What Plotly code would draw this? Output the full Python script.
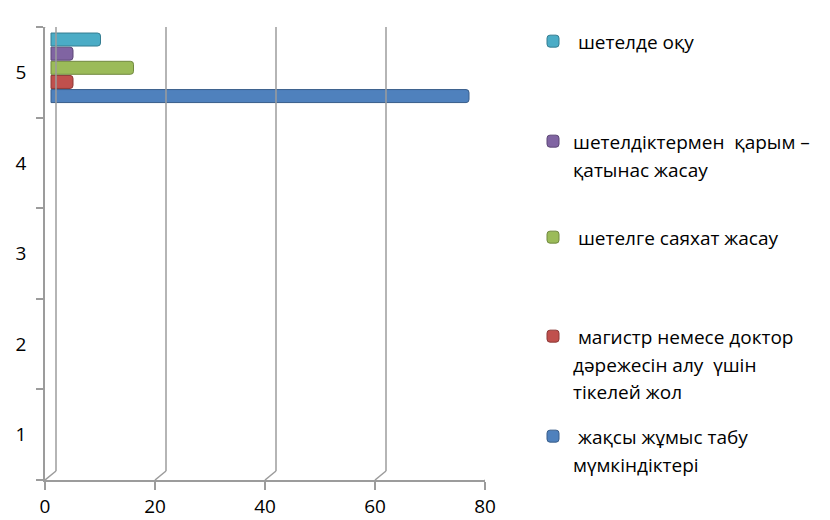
import plotly.graph_objects as go

categories = ["1", "2", "3", "4", "5"]
series_lines = [
    ["\u00a0жақсы жұмыс табу", "мүмкіндіктері"],
    ["\u00a0магистр немесе доктор", "дәрежесін алу  үшін", "тікелей жол"],
    ["\u00a0шетелге саяхат жасау"],
    ["шетелдіктермен  қарым –", "қатынас жасау"],
    ["\u00a0шетелде оқу"],
]
series_values = [
    [None, None, None, None, 76],
    [None, None, None, None, 4],
    [None, None, None, None, 15],
    [None, None, None, None, 4],
    [None, None, None, None, 9],
]
colors = ["#4F81BD", "#C0504D", "#9BBB59", "#8064A2", "#4BACC6"]
edge_colors = ["#385D8A", "#8C3836", "#71893F", "#5C4776", "#357D91"]
x_ticks = [0, 20, 40, 60, 80]

FONT = "Open Sans, Roboto, Noto Sans, sans-serif"
AXC = "#9C9C9C"
TXT = 19

W, H = 830, 520
ML, MR, MT, MB = 45, 345, 27, 40
plot_w = W - ML - MR
x_per_unit = plot_w / 80.0
cat_px = (H - MT - MB) / 5.0
dx, dy = 6, 4.5  # mid-depth offset for bars

fig = go.Figure()
legend_ids = ["legend5", "legend4", "legend3", "legend2", "legend"]
for i, (lines, vals) in enumerate(zip(series_lines, series_values)):
    nm = "<br>".join(f"<span style='font-size:{TXT}px'>{ln}</span>" for ln in lines)
    fig.add_trace(go.Bar(
        y=categories, x=vals, orientation="h", name=nm,
        xaxis="x2", yaxis="y2", showlegend=True,
        marker=dict(color=colors[i], line=dict(color=edge_colors[i], width=1), cornerradius=3),
        legend=legend_ids[i], hoverinfo="x",
    ))

# legend placement (first line centre y in px)
leg_y = [436, 336, 237, 141, 41]
for i, lid in enumerate(legend_ids):
    fig.layout[lid] = dict(
        x=533 / W, y=1 - (leg_y[i] - 20) / H, xref="container", yref="container",
        xanchor="left", yanchor="top", valign="top",
        font=dict(family=FONT, size=21, color="#000"), bgcolor="rgba(0,0,0,0)",
        itemclick=False, itemdoubleclick=False,
    )

shapes = []
gx, gy = 11, 9
for v in x_ticks:
    shapes.append(dict(type="line", xref="x", yref="y", xsizemode="pixel", ysizemode="pixel",
                       xanchor=v, yanchor=0.5, x0=gx, x1=gx, y0=gy, y1=(H - MT - MB) + 10,
                       line=dict(color=AXC, width=1.5)))
    shapes.append(dict(type="line", xref="x", yref="y", xsizemode="pixel", ysizemode="pixel",
                       xanchor=v, yanchor=0.5, x0=0, x1=gx, y0=0, y1=gy,
                       line=dict(color=AXC, width=1.5)))
shapes.append(dict(type="line", xref="x", yref="y", xsizemode="pixel", ysizemode="pixel",
                   xanchor=0, yanchor=5.5, x0=0, x1=gx, y0=0, y1=10,
                   line=dict(color=AXC, width=1.5)))

fig.update_layout(
    width=W, height=H, margin=dict(l=ML, r=MR, t=MT, b=MB, autoexpand=False),
    paper_bgcolor="white", plot_bgcolor="rgba(0,0,0,0)", showlegend=True,
    barmode="group", bargap=0.22, bargroupgap=0.08,
    font=dict(family=FONT, size=TXT, color="#000"),
    shapes=shapes,
    xaxis=dict(range=[0, 80], tickvals=x_ticks, ticks="outside", ticklen=8, tickcolor=AXC,
               tickwidth=1.5, showline=True, linecolor=AXC, linewidth=1.5, showgrid=False,
               zeroline=False, tickfont=dict(size=TXT), fixedrange=True),
    yaxis=dict(range=[0.5, 5.5], tickvals=[1, 2, 3, 4, 5], ticktext=categories, ticks="",
               showline=True, linecolor=AXC, linewidth=1.5, showgrid=False, zeroline=False,
               ticklabelstandoff=13, tickfont=dict(size=TXT),
               minor=dict(tick0=0.5, dtick=1, ticks="outside", ticklen=7, tickcolor=AXC,
                          tickwidth=1.5, showgrid=False),
               fixedrange=True),
    xaxis2=dict(overlaying="x", anchor="y", visible=False,
                range=[-dx / x_per_unit, 80 - dx / x_per_unit], fixedrange=True),
    yaxis2=dict(overlaying="y", anchor="x", visible=False, type="category",
                categoryorder="array", categoryarray=categories,
                range=[-0.5 - dy / cat_px, 4.5 - dy / cat_px], fixedrange=True),
)

fig.write_html("out.html", config={"displayModeBar": False},
               post_script="document.body.style.margin='0';")
